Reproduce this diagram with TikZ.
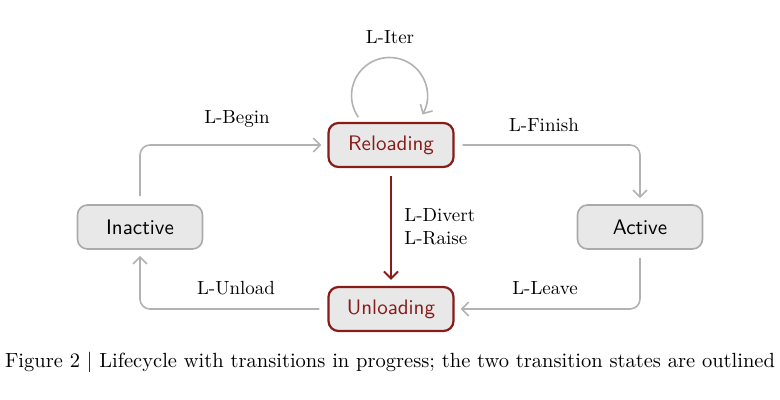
\documentclass[tikz,border=0pt]{standalone}
\usetikzlibrary{arrows.meta}
\definecolor{boxfill}{RGB}{232,232,232}
\definecolor{boxline}{RGB}{170,170,170}
\definecolor{edgegray}{RGB}{178,178,178}
\definecolor{darkred}{RGB}{135,28,24}
\begin{document}
\begin{tikzpicture}[x=0.5pt,y=-0.5pt,
  state/.style={draw=boxline, fill=boxfill, rounded corners=5pt, line width=0.8pt,
    minimum width=62.5pt, minimum height=22pt, inner sep=0pt,
    font=\sffamily\fontsize{10.5}{12}\selectfont},
  hot/.style={state, draw=darkred, text=darkred, line width=1.1pt},
  edge/.style={draw=edgegray, line width=0.8pt, rounded corners=5pt,
    -{Straight Barb[length=3.5pt,width=7pt]}, shorten >=3pt, shorten <=4pt},
  redge/.style={edge, draw=darkred, line width=1pt, shorten <=4pt},
  lab/.style={font=\fontsize{9.5}{11.5}\selectfont, inner sep=0pt}
]
\useasboundingbox (0,0) rectangle (780,400);

\node[hot] (rel) at (391,145) {Reloading};
\node[hot] (unl) at (391,309) {Unloading};
\node[state] (ina) at (140,227) {Inactive};
\node[state] (act) at (640,227) {Active};

\draw[edge] (ina.north) |- (rel.west);
\draw[edge] (rel.east) -| (act.north);
\draw[edge] (act.south) |- (unl.east);
\draw[edge] (unl.west) -| (ina.south);
\draw[redge] (rel.south) -- (unl.north);

\coordinate (ls) at (358.4,117.3);
\draw[edge, shorten <=0pt, shorten >=0pt] (ls) arc[start angle=215, end angle=-30, radius=19pt];

\node[lab] (liter) at (390,37) {L-Iter};
\node[lab] (lbegin) at (237,119) {L-Begin};
\node[lab] (lfinish) at (544,125) {L-Finish};
\node[lab, anchor=west, align=left] (ldiv) at (404,227) {L-Divert\\L-Raise};
\node[lab] (lunload) at (236,288) {L-Unload};
\node[lab] (lleave) at (545,288) {L-Leave};

\node[font=\fontsize{10.25}{12}\selectfont, inner sep=0pt] (cap) at (390,362)
  {Figure 2 | Lifecycle with transitions in progress; the two transition states are outlined};
\end{tikzpicture}
\end{document}
